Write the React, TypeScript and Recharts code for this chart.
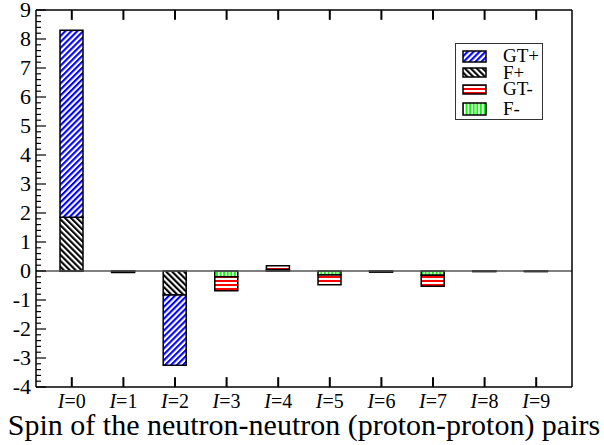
import React from 'react';
import { BarChart, Bar, XAxis, YAxis, ReferenceLine, Legend } from 'recharts';

const spins = [0, 1, 2, 3, 4, 5, 6, 7, 8, 9];
const fPlus = [1.85, 0, -0.83, 0, 0.01, 0, -0.01, 0, 0, 0];
const gtPlus = [6.45, 0, -2.42, 0, 0.04, 0, -0.03, 0, 0, 0];
const fMinus = [-0.01, -0.02, 0, -0.2, 0, -0.14, 0, -0.15, -0.01, -0.01];
const gtMinus = [0, -0.03, 0, -0.48, 0.13, -0.33, 0, -0.38, -0.01, -0.01];

const yTicks = [-4, -3, -2, -1, 0, 1, 2, 3, 4, 5, 6, 7, 8, 9];
const yMinorTicks = Array.from({ length: 66 }, (_, i) => Math.round((-4 + i * 0.2) * 10) / 10);

const data = spins.map((s, i) => ({
  name: String(s),
  fPlus: fPlus[i],
  gtPlus: gtPlus[i],
  fMinus: fMinus[i],
  gtMinus: gtMinus[i],
}));

const FONT = 'Liberation Serif, Times New Roman, serif';
const Y_MIN = yTicks[0];
const Y_MAX = yTicks[yTicks.length - 1];
const X_TICK_LEN = 0.34; // in y units, about 10px

const legendItems = [
  { label: 'GT+', fill: 'url(#patGTp)', center: 12, h: 11 },
  { label: 'F+', fill: 'url(#patFp)', center: 28.5, h: 9 },
  { label: 'GT-', fill: 'url(#patGTm)', center: 45, h: 9 },
  { label: 'F-', fill: 'url(#patFm)', center: 64.5, h: 12 },
];

const Patterns = () => (
  <svg width={0} height={0} style={{ position: 'absolute' }}>
    <defs>
      <pattern id="patGTp" patternUnits="userSpaceOnUse" width={4.2} height={4.2} patternTransform="rotate(45)">
        <rect width={4.2} height={4.2} fill="#fff" />
        <rect width={2.1} height={4.2} fill="#0000ff" />
      </pattern>
      <pattern id="patFp" patternUnits="userSpaceOnUse" width={4.2} height={4.2} patternTransform="rotate(-45)">
        <rect width={4.2} height={4.2} fill="#fff" />
        <rect width={2.1} height={4.2} fill="#000" />
      </pattern>
      <pattern id="patGTm" patternUnits="userSpaceOnUse" width={4} height={4}>
        <rect width={4} height={4} fill="#fff" />
        <rect width={4} height={2} fill="#ff0000" />
      </pattern>
      <pattern id="patFm" patternUnits="userSpaceOnUse" width={3.6} height={3.6}>
        <rect width={3.6} height={3.6} fill="#fff" />
        <rect width={1.8} height={3.6} fill="#00ff00" />
      </pattern>
    </defs>
  </svg>
);

const LegendBox = () => (
  <div style={{ position: 'relative', width: 88, height: 77, border: '1px solid #333', boxSizing: 'border-box', background: '#fff' }}>
    {legendItems.map((it) => (
      <React.Fragment key={it.label}>
        <svg width={26} height={it.h + 2} style={{ position: 'absolute', left: 6, top: it.center - it.h / 2 - 1 }}>
          <rect x={1} y={1} width={23} height={it.h} fill={it.fill} stroke="#000" strokeWidth={1.5} />
        </svg>
        <span style={{ position: 'absolute', left: 47, top: it.center - 8, fontFamily: FONT, fontSize: 19, lineHeight: '16px', color: '#000' }}>
          {it.label}
        </span>
      </React.Fragment>
    ))}
  </div>
);

const isMajor = (v: number) => Math.abs(v - Math.round(v)) < 1e-6;

const XTick = (props: any) => {
  const { x, y, payload } = props;
  return (
    <text x={x} y={y + 21} textAnchor="middle" fontSize={20} fontFamily={FONT} fill="#000">
      <tspan fontStyle="italic">I</tspan>={payload.value}
    </text>
  );
};

const LeftTick = (props: any) => {
  const { x, y, payload } = props;
  const major = isMajor(payload.value);
  return (
    <g>
      <line x1={x} x2={x + (major ? 10 : 5)} y1={y} y2={y} stroke="#000" strokeWidth={1.2} />
      {major && (
        <text x={x - 5} y={y + 7} textAnchor="end" fontSize={22} fontFamily={FONT} fill="#000">
          {payload.value}
        </text>
      )}
    </g>
  );
};

const RightTick = (props: any) => {
  const { x, y, payload } = props;
  const major = isMajor(payload.value);
  return <line x1={x} x2={x - (major ? 10 : 5)} y1={y} y2={y} stroke="#000" strokeWidth={1.2} />;
};

export default function App() {
  const pad = { left: 10, right: 10 };
  const frame = { stroke: '#000', strokeWidth: 1.5 };
  return (
    <div style={{ position: 'absolute', left: 0, top: 0, width: 604, height: 445, background: '#fff', fontFamily: FONT }}>
      <Patterns />
      <BarChart width={604} height={445} data={data} stackOffset="sign" margin={{ top: 10, right: 31, left: 0, bottom: 0 }}>
        <XAxis
          xAxisId="main"
          dataKey="name"
          height={58}
          padding={pad}
          interval={0}
          tick={<XTick />}
          tickLine={false}
          tickSize={0}
          tickMargin={0}
          axisLine={frame}
          label={{ value: 'Spin of the neutron-neutron (proton-proton) pairs', position: 'insideBottom', offset: 10, style: { fontSize: 30, fontFamily: FONT, fill: '#000' } }}
        />
        <YAxis
          yAxisId="main"
          type="number"
          domain={[Y_MIN, Y_MAX]}
          ticks={yMinorTicks}
          interval={0}
          width={36}
          tickLine={false}
          tickSize={0}
          tickMargin={0}
          tick={<LeftTick />}
          axisLine={frame}
        />
        <YAxis
          yAxisId="right"
          orientation="right"
          type="number"
          domain={[Y_MIN, Y_MAX]}
          ticks={yMinorTicks}
          interval={0}
          width={1}
          tickLine={false}
          tickSize={0}
          tickMargin={0}
          tick={<RightTick />}
          axisLine={frame}
        />
        <ReferenceLine xAxisId="main" yAxisId="main" y={Y_MAX} stroke="#000" strokeWidth={1.5} />
        <ReferenceLine xAxisId="main" yAxisId="main" y={0} stroke="#555" strokeWidth={1.5} />
        {data.map((d) => (
          <ReferenceLine
            key={'b' + d.name}
            xAxisId="main"
            yAxisId="main"
            ifOverflow="visible"
            segment={[{ x: d.name, y: Y_MIN }, { x: d.name, y: Y_MIN + X_TICK_LEN }]}
            stroke="#000"
            strokeWidth={2}
          />
        ))}
        {data.map((d) => (
          <ReferenceLine
            key={'t' + d.name}
            xAxisId="main"
            yAxisId="main"
            ifOverflow="visible"
            segment={[{ x: d.name, y: Y_MAX }, { x: d.name, y: Y_MAX - X_TICK_LEN }]}
            stroke="#000"
            strokeWidth={2}
          />
        ))}
        <Bar xAxisId="main" yAxisId="main" dataKey="fPlus" stackId="a" barSize={23} fill="url(#patFp)" stroke="#000" strokeWidth={1.5} isAnimationActive={false} />
        <Bar xAxisId="main" yAxisId="main" dataKey="gtPlus" stackId="a" barSize={23} fill="url(#patGTp)" stroke="#000" strokeWidth={1.5} isAnimationActive={false} />
        <Bar xAxisId="main" yAxisId="main" dataKey="fMinus" stackId="a" barSize={23} fill="url(#patFm)" stroke="#000" strokeWidth={1.5} isAnimationActive={false} />
        <Bar xAxisId="main" yAxisId="main" dataKey="gtMinus" stackId="a" barSize={23} fill="url(#patGTm)" stroke="#000" strokeWidth={1.5} isAnimationActive={false} />
        <Legend
          layout="horizontal"
          verticalAlign="middle"
          align="center"
          wrapperStyle={{ left: 455, top: 43, width: 88, height: 77 }}
          content={() => <LegendBox />}
        />
      </BarChart>
    </div>
  );
}
